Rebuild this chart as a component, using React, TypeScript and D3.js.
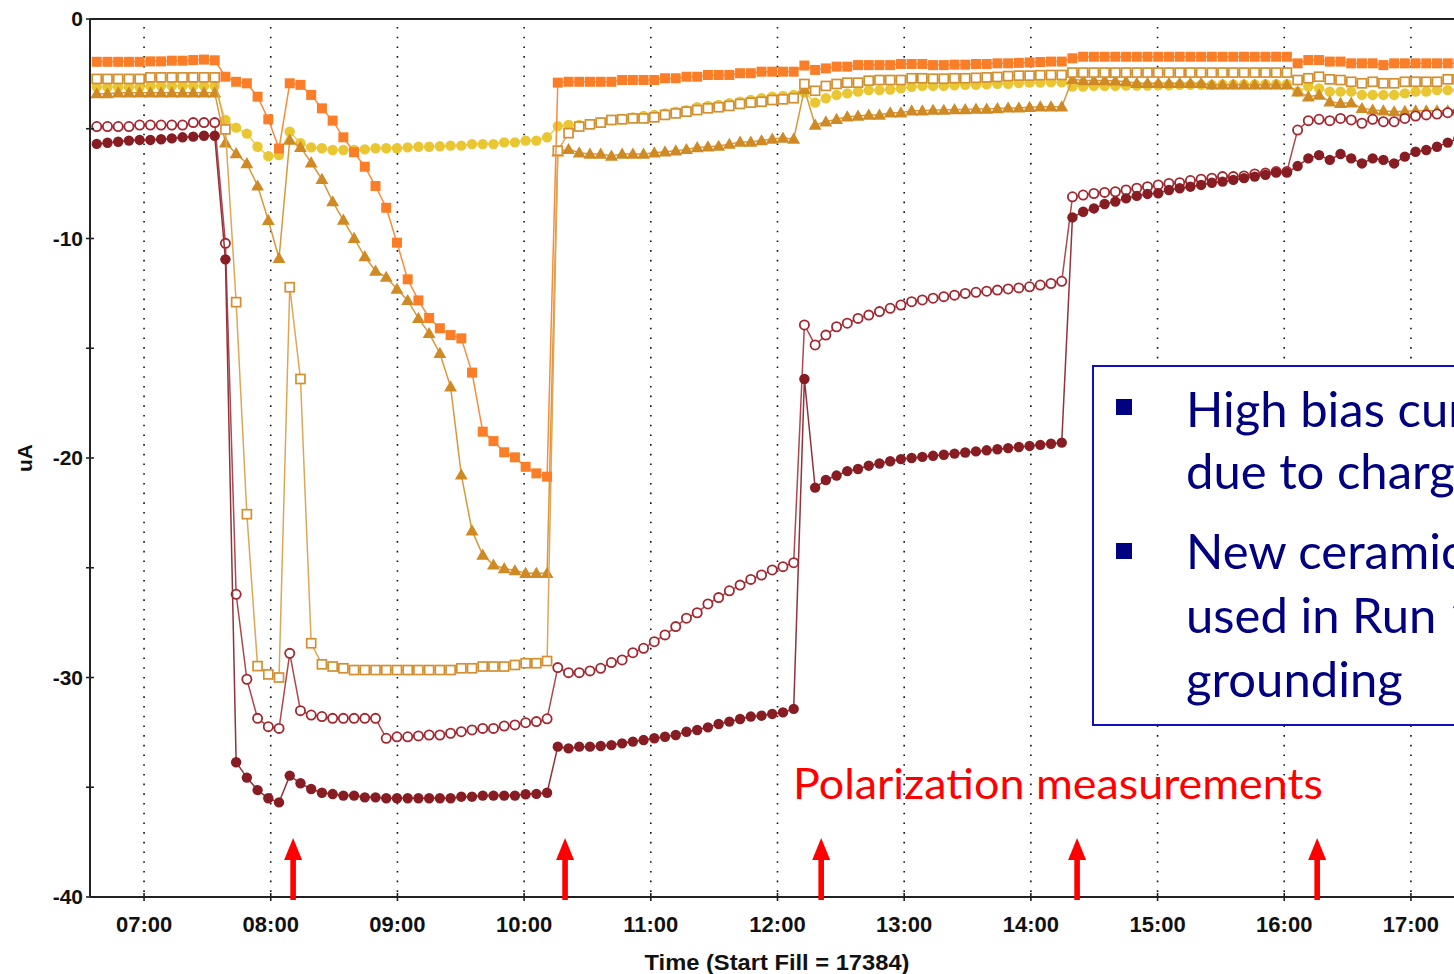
import React from 'react';
import * as d3 from 'd3';

// ---------- data (values in uA, one sample every ~5 min starting 06:37.6) ----------
const sampleStartMin = 397.6; // minutes after midnight of first sample
const sampleStepMin = 5.078;

const orangeSq = [
  -1.95,-1.95,-1.95,-1.95,-1.95,-1.93,-1.93,-1.9,-1.9,-1.87,
  -1.85,-1.88,-2.63,-2.86,-2.93,-3.54,-4.57,-5.9,-2.93,-3.0,
  -3.46,-4.07,-4.63,-5.39,-6.07,-6.73,-7.61,-8.6,-10.19,-11.86,
  -12.82,-13.62,-14.09,-14.4,-14.55,-16.11,-18.8,-19.23,-19.74,-19.97,
  -20.4,-20.7,-20.85,-2.9,-2.86,-2.86,-2.86,-2.86,-2.86,-2.78,
  -2.78,-2.78,-2.78,-2.7,-2.7,-2.63,-2.63,-2.55,-2.55,-2.55,
  -2.47,-2.47,-2.4,-2.4,-2.4,-2.4,-2.12,-2.32,-2.25,-2.17,
  -2.17,-2.1,-2.1,-2.1,-2.1,-2.05,-2.05,-2.05,-2.1,-2.1,
  -2.08,-2.08,-2.05,-2.05,-2.02,-2.02,-2.0,-1.98,-1.96,-1.94,
  -1.94,-1.79,-1.72,-1.72,-1.72,-1.72,-1.72,-1.72,-1.72,-1.72,
  -1.72,-1.72,-1.72,-1.72,-1.72,-1.72,-1.72,-1.72,-1.72,-1.72,
  -1.72,-1.72,-2.02,-1.87,-1.87,-1.94,-1.94,-2.02,-2.02,-2.02,
  -2.1,-2.02,-2.02,-2.02,-2.02,-2.02,-2.02,-2.02,
];

const yellowCirc = [
  -3.1,-3.1,-3.1,-3.1,-3.1,-3.05,-3.05,-3.05,-3.05,-3.05,
  -3.05,-3.05,-4.6,-4.95,-5.22,-5.82,-6.25,-6.2,-5.13,-5.66,
  -5.85,-5.89,-5.97,-5.97,-5.97,-5.94,-5.89,-5.89,-5.89,-5.85,
  -5.82,-5.82,-5.8,-5.77,-5.77,-5.7,-5.7,-5.7,-5.62,-5.62,
  -5.54,-5.54,-5.39,-4.88,-4.83,-4.83,-4.79,-4.72,-4.6,-4.57,
  -4.48,-4.42,-4.37,-4.3,-4.22,-4.15,-4.02,-3.96,-3.92,-3.84,
  -3.77,-3.69,-3.61,-3.54,-3.5,-3.46,-3.35,-3.81,-3.61,-3.46,
  -3.39,-3.31,-3.24,-3.24,-3.21,-3.16,-3.09,-3.05,-3.05,-3.05,
  -3.02,-3.0,-3.0,-2.98,-2.95,-2.95,-2.92,-2.9,-2.9,-2.88,
  -2.88,-3.08,-3.08,-3.05,-3.05,-3.05,-3.03,-3.03,-3.03,-3.02,
  -3.02,-3.0,-3.0,-3.0,-3.0,-2.98,-2.98,-2.98,-2.98,-2.97,
  -2.97,-2.97,-3.31,-3.08,-3.16,-3.31,-3.31,-3.31,-3.46,-3.46,
  -3.46,-3.46,-3.39,-3.31,-3.31,-3.24,-3.24,-3.24,
];

const goldOpenSq = [
  -2.73,-2.73,-2.73,-2.73,-2.73,-2.66,-2.66,-2.66,-2.66,-2.66,
  -2.66,-2.66,-5.03,-12.9,-22.56,-29.48,-29.86,-30.0,-12.22,-16.4,
  -28.44,-29.4,-29.5,-29.58,-29.66,-29.66,-29.66,-29.66,-29.66,-29.66,
  -29.66,-29.66,-29.66,-29.66,-29.58,-29.58,-29.5,-29.5,-29.5,-29.43,
  -29.35,-29.35,-29.25,-6.0,-5.2,-4.9,-4.8,-4.72,-4.6,-4.57,
  -4.53,-4.53,-4.48,-4.37,-4.3,-4.22,-4.15,-4.07,-4.02,-3.96,
  -3.87,-3.81,-3.77,-3.69,-3.66,-3.61,-2.96,-3.27,-3.05,-2.96,
  -2.9,-2.9,-2.81,-2.78,-2.78,-2.78,-2.7,-2.7,-2.72,-2.72,
  -2.7,-2.7,-2.68,-2.66,-2.64,-2.6,-2.58,-2.58,-2.56,-2.55,
  -2.55,-2.44,-2.44,-2.44,-2.44,-2.44,-2.44,-2.44,-2.44,-2.44,
  -2.44,-2.44,-2.44,-2.44,-2.44,-2.44,-2.44,-2.44,-2.44,-2.44,
  -2.44,-2.44,-2.78,-2.7,-2.63,-2.75,-2.78,-2.86,-2.93,-2.86,
  -2.93,-2.93,-2.86,-2.86,-2.86,-2.86,-2.75,-2.75,
];

const goldTri = [
  -3.4,-3.4,-3.36,-3.36,-3.36,-3.36,-3.36,-3.36,-3.36,-3.36,
  -3.36,-3.36,-5.64,-6.13,-6.58,-7.6,-9.17,-10.9,-5.51,-5.84,
  -6.55,-7.3,-8.32,-9.16,-9.99,-10.82,-11.48,-11.76,-12.3,-12.82,
  -13.64,-14.32,-15.23,-16.75,-20.77,-23.31,-24.42,-24.87,-25.03,-25.13,
  -25.25,-25.25,-25.25,-6.05,-5.94,-6.09,-6.15,-6.15,-6.24,-6.15,
  -6.15,-6.15,-6.09,-6.05,-6.0,-5.94,-5.85,-5.82,-5.79,-5.7,
  -5.6,-5.6,-5.54,-5.47,-5.42,-5.47,-3.2,-4.83,-4.68,-4.57,
  -4.45,-4.42,-4.37,-4.37,-4.27,-4.27,-4.18,-4.18,-4.15,-4.15,
  -4.12,-4.12,-4.1,-4.1,-4.08,-4.05,-4.05,-4.02,-4.0,-4.0,
  -4.0,-2.75,-2.8,-2.8,-2.8,-2.82,-2.85,-2.93,-2.93,-2.93,
  -2.93,-2.93,-2.93,-2.93,-3.0,-3.0,-3.0,-3.0,-3.0,-3.0,
  -3.0,-3.0,-3.31,-3.54,-3.46,-3.77,-3.84,-3.82,-4.07,-4.14,
  -4.18,-4.22,-4.2,-4.18,-4.18,-4.18,-4.18,-4.12,
];

const redOpenCirc = [
  -4.9,-4.9,-4.9,-4.9,-4.83,-4.83,-4.83,-4.83,-4.83,-4.72,
  -4.72,-4.72,-10.22,-26.21,-30.08,-31.86,-32.24,-32.32,-28.9,-31.51,
  -31.71,-31.78,-31.86,-31.86,-31.86,-31.86,-31.86,-32.77,-32.7,-32.7,
  -32.66,-32.62,-32.62,-32.54,-32.47,-32.39,-32.32,-32.32,-32.21,-32.16,
  -32.06,-32.01,-31.88,-29.55,-29.78,-29.78,-29.7,-29.58,-29.32,-29.2,
  -28.87,-28.67,-28.37,-28.06,-27.68,-27.3,-27.05,-26.65,-26.36,-26.05,
  -25.79,-25.53,-25.33,-25.1,-24.95,-24.77,-13.94,-14.85,-14.4,-14.02,
  -13.86,-13.64,-13.49,-13.33,-13.18,-13.03,-12.88,-12.8,-12.72,-12.65,
  -12.58,-12.5,-12.45,-12.4,-12.35,-12.3,-12.25,-12.2,-12.12,-12.05,
  -11.95,-8.1,-8.02,-7.95,-7.9,-7.87,-7.79,-7.71,-7.64,-7.56,
  -7.49,-7.46,-7.36,-7.3,-7.25,-7.18,-7.18,-7.15,-7.06,-7.02,
  -6.95,-6.95,-5.06,-4.63,-4.57,-4.63,-4.53,-4.6,-4.75,-4.57,
  -4.68,-4.68,-4.53,-4.42,-4.37,-4.33,-4.27,-4.22,
];

const redFilledCirc = [
  -5.69,-5.64,-5.59,-5.54,-5.51,-5.51,-5.48,-5.44,-5.39,-5.36,
  -5.32,-5.32,-10.95,-33.86,-34.56,-35.13,-35.5,-35.69,-34.47,-34.82,
  -35.08,-35.25,-35.31,-35.38,-35.38,-35.46,-35.46,-35.5,-35.5,-35.5,
  -35.5,-35.5,-35.5,-35.5,-35.43,-35.43,-35.38,-35.38,-35.38,-35.38,
  -35.32,-35.3,-35.25,-33.15,-33.23,-33.15,-33.15,-33.12,-33.08,-33.0,
  -32.92,-32.85,-32.77,-32.7,-32.62,-32.47,-32.39,-32.27,-32.12,-32.01,
  -31.89,-31.78,-31.74,-31.66,-31.59,-31.43,-16.4,-21.35,-21.0,-20.8,
  -20.6,-20.5,-20.35,-20.25,-20.15,-20.05,-20.0,-19.95,-19.9,-19.85,
  -19.8,-19.75,-19.7,-19.65,-19.6,-19.55,-19.5,-19.45,-19.4,-19.35,
  -19.3,-9.04,-8.78,-8.63,-8.43,-8.32,-8.17,-8.06,-7.97,-7.94,
  -7.79,-7.71,-7.64,-7.56,-7.46,-7.41,-7.33,-7.25,-7.18,-7.1,
  -7.0,-7.0,-6.7,-6.35,-6.2,-6.42,-6.15,-6.35,-6.58,-6.35,
  -6.42,-6.58,-6.27,-6.05,-5.97,-5.82,-5.63,-5.44,
];

const hourTicks = [7, 8, 9, 10, 11, 12, 13, 14, 15, 16, 17];
const yMajorTicks = [0, -10, -20, -30, -40];
const yMinorTicks = [-5, -15, -25, -35];
const arrowTimes = ['08:10.6', '10:19.4', '12:20.7', '14:21.9', '16:15.6'];
const boxLines = ['High bias current', 'due to charging', 'New ceramics', 'used in Run 1 for', 'grounding'];

// ---------- layout ----------
const W = 1454;
const H = 974;
const plotLeft = 90;
const plotTop = 19;
const plotBottom = 897;

const x = d3.scaleLinear().domain([394.4, 1040.4]).range([plotLeft, W]);
const y = d3.scaleLinear().domain([0, -40]).range([plotTop, plotBottom]);

const parseT = (s: string) => {
  const [h, m] = s.split(':');
  return +h * 60 + +m;
};

type Series = { name: string; values: number[]; color: string; lineColor: string; marker: string };
const series: Series[] = [
  { name: 'yellow', values: yellowCirc, color: '#E9C632', lineColor: '#EDCF50', marker: 'fcirc' },
  { name: 'tri', values: goldTri, color: '#D08A24', lineColor: '#D8983C', marker: 'tri' },
  { name: 'osq', values: goldOpenSq, color: '#D48F30', lineColor: '#E0A656', marker: 'osq' },
  { name: 'orange', values: orangeSq, color: '#FA7E27', lineColor: '#FB8A3C', marker: 'fsq' },
  { name: 'ocirc', values: redOpenCirc, color: '#A3272F', lineColor: '#B0474D', marker: 'ocirc' },
  { name: 'fcirc', values: redFilledCirc, color: '#871C22', lineColor: '#92323A', marker: 'fcirc' },
];

const tOf = (i: number) => sampleStartMin + i * sampleStepMin;
const triPath = d3.symbol().type(d3.symbolTriangle).size(72)() as string;

function Marker({ kind, cx, cy, color }: { kind: string; cx: number; cy: number; color: string }) {
  if (kind === 'fsq') return <rect x={cx - 5} y={cy - 5} width={10} height={10} fill={color} />;
  if (kind === 'osq') return <rect x={cx - 4.5} y={cy - 4.5} width={9} height={9} fill="#fff" stroke={color} strokeWidth={1.7} />;
  if (kind === 'fcirc') return <circle cx={cx} cy={cy} r={5.2} fill={color} />;
  if (kind === 'ocirc') return <circle cx={cx} cy={cy} r={4.6} fill="#fff" stroke={color} strokeWidth={1.8} />;
  return <path d={triPath} transform={`translate(${cx},${cy + 1})`} fill={color} />;
}

export default function App() {
  const line = d3
    .line<number>()
    .x((_, i) => x(tOf(i)))
    .y((v) => y(v));

  const fmtHour = (h: number) => `${String(h).padStart(2, '0')}:00`;
  const axisFont = '"Liberation Sans Narrow", "Liberation Sans", Arial, sans-serif';

  return (
    <svg width={W} height={H} style={{ position: 'absolute', left: 0, top: 0, background: '#fff' }} fontFamily={axisFont}>
      <rect x={0} y={0} width={W} height={H} fill="#fff" />
      {/* vertical dotted gridlines */}
      {hourTicks.map((h) => (
        <line key={'g' + h} x1={x(h * 60)} x2={x(h * 60)} y1={plotTop + 8} y2={plotBottom} stroke="#111" strokeWidth={1.6} strokeDasharray="1.6 8.1" />
      ))}

      {/* series */}
      {series.map((s) => (
        <g key={s.name}>
          <path d={line(s.values) as string} fill="none" stroke={s.lineColor} strokeWidth={1.5} />
          {s.values.map((v, i) => (
            <Marker key={i} kind={s.marker} cx={x(tOf(i))} cy={y(v)} color={s.color} />
          ))}
        </g>
      ))}

      {/* axes */}
      <line x1={plotLeft} x2={W} y1={plotTop} y2={plotTop} stroke="#222" strokeWidth={2} />
      <line x1={plotLeft} x2={W} y1={plotBottom} y2={plotBottom} stroke="#222" strokeWidth={2} />
      <line x1={plotLeft} x2={plotLeft} y1={plotTop} y2={plotBottom} stroke="#222" strokeWidth={2} />
      {yMajorTicks.concat(yMinorTicks).map((v) => (
        <line key={'yt' + v} x1={plotLeft - 4} x2={plotLeft + 4} y1={y(v)} y2={y(v)} stroke="#222" strokeWidth={1.6} />
      ))}
      {yMajorTicks.map((v) => (
        <text key={'yl' + v} x={plotLeft - 7} y={y(v)} dy="0.35em" textAnchor="end" fontSize={21} fontWeight="bold" fill="#111">
          {v}
        </text>
      ))}
      {hourTicks.map((h) => (
        <g key={'xt' + h}>
          <line x1={x(h * 60)} x2={x(h * 60)} y1={plotBottom - 4} y2={plotBottom + 4} stroke="#222" strokeWidth={1.6} />
          <text x={x(h * 60)} y={plotBottom + 35} textAnchor="middle" fontSize={22} fontWeight="bold" fill="#111">
            {fmtHour(h)}
          </text>
        </g>
      ))}
      <text x={777} y={970} textAnchor="middle" fontSize={22} fontWeight="bold" fill="#111" textLength={265} lengthAdjust="spacingAndGlyphs">
        Time (Start Fill = 17384)
      </text>
      <text transform={`translate(32,458) rotate(-90)`} textAnchor="middle" fontSize={21} fontWeight="bold" fill="#111">
        uA
      </text>

      {/* red arrows */}
      {arrowTimes.map((t) => {
        const ax = x(parseT(t));
        return (
          <g key={t} fill="#FF0000">
            <rect x={ax - 2.8} y={856} width={5.6} height={plotBottom + 3 - 856} />
            <path d={`M${ax},838 L${ax - 9},860 L${ax + 9},860 Z`} />
          </g>
        );
      })}

      {/* annotation */}
      <text x={793} y={799} fontFamily="Lato, 'Open Sans', sans-serif" fontSize={42} fill="#FF0000" textLength={530} lengthAdjust="spacingAndGlyphs">
        Polarization measurements
      </text>

      <rect x={1093} y={366} width={420} height={359} fill="#fff" stroke="#1010C0" strokeWidth={2} />
      <rect x={1116} y={399} width={16} height={16} fill="#000080" />
      <rect x={1116} y={543} width={16} height={16} fill="#000080" />
      {boxLines.map((t, i) => (
        <text key={t} x={1186} y={[427, 489, 569, 633, 697][i]} fontFamily="Lato, 'Open Sans', sans-serif" fontSize={49} fill="#000080">
          {t}
        </text>
      ))}
    </svg>
  );
}
